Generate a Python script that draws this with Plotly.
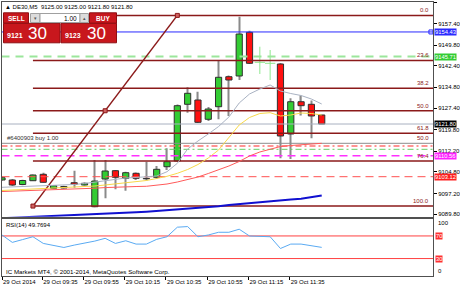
import plotly.graph_objects as go

W, H = 460, 287
def px(x): return x / W
def py(y): return 1 - y / H

FONT = "Liberation Sans, Arial, DejaVu Sans, sans-serif"

# ---------------- data ----------------
bars = list(range(32))
tick_bars = [0, 4, 8, 12, 16, 20, 24, 28]
tick_labels = ["29 Oct 2014", "29 Oct 09:35", "29 Oct 09:55", "29 Oct 10:15",
               "29 Oct 10:35", "29 Oct 10:55", "29 Oct 11:15", "29 Oct 11:35"]

opens = [9101.95, 9101.95, 9100.35, 9101.70, 9103.97, 9099.01, 9099.11, 9100.99, 9100.18, 9092.48,
         9102.30, 9105.25, 9102.55, 9104.32, 9102.48, 9102.91, 9106.66, 9108.68, 9128.78, 9130.31,
         9123.47, 9127.93, 9138.57, 9138.82, 9154.31, 9143.67, 9143.32, 9143.07, 9118.26, 9129.70,
         9128.78, 9125.00]
highs = [9103.20, 9102.30, 9102.00, 9103.90, 9104.54, 9100.11, 9099.90, 9105.25, 9101.06, 9109.04,
         9109.04, 9105.49, 9104.89, 9104.61, 9108.44, 9106.91, 9113.19, 9128.71, 9134.81, 9133.25,
         9127.83, 9144.13, 9138.99, 9159.84, 9154.87, 9149.20, 9148.03, 9143.42, 9130.91, 9131.90,
         9130.13, 9125.00]
lows = [9101.60, 9099.80, 9100.10, 9101.59, 9101.06, 9098.83, 9098.90, 9099.22, 9100.00, 9092.27,
        9095.46, 9098.65, 9098.16, 9101.95, 9101.77, 9102.30, 9105.49, 9108.51, 9125.81, 9122.15,
        9122.86, 9123.47, 9124.64, 9137.40, 9143.07, 9139.53, 9137.40, 9109.64, 9109.39, 9124.81,
        9116.73, 9121.80]
closes = [9102.76, 9100.18, 9101.77, 9103.72, 9101.13, 9099.93, 9099.64, 9100.42, 9100.78, 9101.59,
          9105.14, 9102.91, 9104.54, 9102.55, 9102.37, 9105.74, 9108.44, 9128.29, 9132.68, 9122.40,
          9127.12, 9138.36, 9137.40, 9153.70, 9143.32, 9143.67, 9143.32, 9117.55, 9129.70, 9128.29,
          9124.64, 9121.80]

ma_gray = [9099.36, 9099.47, 9099.64, 9099.82, 9100.00, 9100.07, 9100.18, 9100.35, 9100.71, 9101.24,
           9101.77, 9102.30, 9102.66, 9102.84, 9103.01, 9103.37, 9104.89, 9107.87, 9112.94, 9115.77,
           9118.26, 9120.91, 9124.28, 9129.25, 9132.44, 9134.21, 9135.63, 9133.50, 9132.61, 9131.90,
           9130.66, 9128.89]
ma_yellow = [9098.23, 9098.40, 9098.58, 9098.76, 9098.94, 9099.04, 9099.18, 9099.36, 9099.54, 9099.82,
             9100.18, 9100.53, 9100.89, 9101.24, 9101.77, 9102.48, 9103.26, 9104.32, 9105.67, 9107.44,
             9109.75, 9112.58, 9116.84, 9121.45, 9124.11, 9125.52, 9125.81, 9124.64, 9124.99, 9125.70,
             9125.52, 9124.99]
ma_red = [9097.87, 9097.98, 9098.12, 9098.23, 9098.33, 9098.48, 9098.58, 9098.72, 9098.87, 9099.04,
          9099.26, 9099.47, 9099.57, 9099.64, 9099.72, 9100.00, 9100.53, 9101.24, 9102.13, 9103.01,
          9104.25, 9105.49, 9106.91, 9108.51, 9110.46, 9111.88, 9112.94, 9113.82, 9114.18, 9114.36,
          9114.71, 9114.96]
ma_blue = [9088.41, 9088.55, 9088.73, 9088.87, 9089.05, 9089.19, 9089.36, 9089.51, 9089.68, 9089.83,
           9090.00, 9090.14, 9090.32, 9090.50, 9090.71, 9090.96, 9091.21, 9091.46, 9091.74, 9092.02,
           9092.27, 9092.66, 9093.09, 9093.44, 9093.80, 9094.22, 9094.58, 9094.86, 9095.04, 9095.28,
           9095.92, 9096.45]
rsi = [71.7, 58.6, 63.6, 68.6, 56.8, 53.2, 49.6, 53.8, 56.8, 60.9,
       65.8, 56.8, 61.5, 55.6, 55.6, 64.0, 68.6, 85.5, 86.6, 68.6,
       71.7, 76.5, 76.5, 81.9, 69.9, 69.4, 68.6, 47.8, 55.6, 55.6,
       52.7, 49.77]
rsi_title = "RSI(14) 49.7694"

price_ticks = [9164.80, 9157.40, 9149.80, 9142.40, 9134.80, 9127.40, 9119.80,
               9112.20, 9104.80, 9097.20, 9089.80]

fib_high, fib_low = 9160.30, 9092.70
fib_start_bar, fib_end_bar = 3, 17
fib_ratios = [0.0, 23.6, 38.2, 50.0, 61.8, 76.4, 100.0]

line_blue = 9154.43
line_green = 9145.71
line_bid = 9121.80
line_order = 9114.96
line_sl = 9114.00
line_tp = 9112.83
line_magenta = 9110.56
line_red = 9103.12
rsi_levels = [70, 30]

# ---------------- layout constants ----------------
X_LEFT, X_RIGHT = -0.048, 41.79
Y_BOTTOM, Y_TOP = 9088.94, 9165.05
DARKRED = "#8b1a1a"

fig = go.Figure()

def hline(y, color, width=1, dash="solid", x0=X_LEFT, axis=("x", "y")):
    fig.add_trace(go.Scatter(x=[x0, X_RIGHT], y=[y, y], mode="lines",
                             line=dict(color=color, width=width, dash=dash),
                             xaxis=axis[0], yaxis=axis[1], hoverinfo="skip"))

# candles: wicks then bodies (flat doji bars drawn as crosses)
norm = [i for i in bars if opens[i] != closes[i]]
doji = [i for i in bars if opens[i] == closes[i]]
fig.add_trace(go.Bar(x=norm, base=[lows[i] for i in norm],
                     y=[highs[i] - lows[i] for i in norm], width=0.12,
                     marker=dict(color="#8a8a8a", line=dict(width=0)),
                     xaxis="x", yaxis="y", hoverinfo="skip"))
fig.add_trace(go.Bar(x=norm, base=[min(opens[i], closes[i]) for i in norm],
                     y=[max(abs(closes[i] - opens[i]), 0.15) for i in norm], width=0.6,
                     marker=dict(color=["#33cc33" if closes[i] > opens[i] else "#ff1010" for i in norm],
                                 line=dict(color="#303030", width=1)),
                     xaxis="x", yaxis="y", hoverinfo="skip"))
cx, cy = [], []
for i in doji:
    cx += [i, i, None, i - 0.5, i + 0.5, None]
    cy += [lows[i], highs[i], None, closes[i], closes[i], None]
fig.add_trace(go.Scatter(x=cx, y=cy, mode="lines", line=dict(color="#8ee88e", width=1),
                         xaxis="x", yaxis="y", hoverinfo="skip"))

# horizontal objects
hline(line_blue, "#2a2aff", 1)
hline(line_green, "#9be69b", 2, "8px,6px")
hline(line_bid, "#a8b0c0", 1)
hline(line_order, "#8c8c8c", 1)
hline(line_sl, "#ff7070", 1.5, "6px,3px,2px,3px")
hline(line_tp, "#66cc66", 1, "6px,3px,2px,3px")
hline(line_magenta, "#ff30ff", 1.5, "8px,5px")
hline(line_red, "#ff5050", 1, "8px,5px")

# fibonacci
fib_levels = [fib_high - r / 100 * (fib_high - fib_low) for r in fib_ratios]
for lv in fib_levels:
    hline(lv, DARKRED, 1.5, x0=fib_start_bar)
fig.add_trace(go.Scatter(x=[fib_start_bar, fib_end_bar], y=[fib_low, fib_high], mode="lines",
                         line=dict(color=DARKRED, width=1.5), xaxis="x", yaxis="y", hoverinfo="skip"))
fig.add_trace(go.Scatter(x=[fib_start_bar, (fib_start_bar + fib_end_bar) / 2, fib_end_bar],
                         y=[fib_low, (fib_low + fib_high) / 2, fib_high], mode="markers",
                         marker=dict(symbol="square", size=4, color="#d06060",
                                     line=dict(color=DARKRED, width=1)),
                         xaxis="x", yaxis="y", hoverinfo="skip"))

# moving averages
fig.add_trace(go.Scatter(x=bars, y=ma_red, mode="lines", line=dict(color="#ff5a5a", width=1),
                         xaxis="x", yaxis="y", hoverinfo="skip"))
fig.add_trace(go.Scatter(x=bars, y=ma_yellow, mode="lines", line=dict(color="#f7d84a", width=1),
                         xaxis="x", yaxis="y", hoverinfo="skip"))
fig.add_trace(go.Scatter(x=bars, y=ma_gray, mode="lines", line=dict(color="#a9b2c2", width=1),
                         xaxis="x", yaxis="y", hoverinfo="skip"))
fig.add_trace(go.Scatter(x=bars, y=ma_blue, mode="lines", line=dict(color="#1010d0", width=2),
                         xaxis="x", yaxis="y", hoverinfo="skip"))
fig.add_trace(go.Scatter(x=[X_RIGHT - 0.2], y=[line_blue], mode="markers",
                         marker=dict(symbol="square-open", size=4, color="#2a2aff"),
                         xaxis="x", yaxis="y", hoverinfo="skip"))

# RSI panel
for lv in rsi_levels:
    hline(lv, "#ff4040", 1, axis=("x2", "y2"))
fig.add_trace(go.Scatter(x=bars, y=rsi, mode="lines", line=dict(color="#5aaaf2", width=1),
                         xaxis="x2", yaxis="y2", hoverinfo="skip"))

# ---------------- annotations ----------------
ann = []
def txt(x, y, s, size=6, color="#000", xanchor="left", yanchor="middle", xref="paper",
        yref="paper", bg=None, **kw):
    d = dict(x=x, y=y, text=s, showarrow=False, xref=xref, yref=yref, xanchor=xanchor,
             yanchor=yanchor, font=dict(size=size, color=color, family=FONT), **kw)
    if bg:
        d.update(bgcolor=bg, borderpad=0)
    ann.append(d)

for r, lv in zip(fib_ratios, fib_levels):
    txt(px(431), lv, f"{r:.1f}", color=DARKRED, xanchor="right", yanchor="bottom", yref="y")
txt(px(431), line_order, "50.0", color=DARKRED, xanchor="right", yanchor="bottom", yref="y")
txt(px(5), line_order, "#6400903 buy 1.00", color="#303030", yanchor="bottom", yref="y")

for val, bg in [(line_blue, "#2a2aff"), (line_green, "#33cc33"), (line_bid, "#000000"),
                (line_magenta, "#ff20ff"), (line_red, "#ff2020")]:
    txt(px(434), val, f"{val:.2f}", size=5.8, color="#ffffff", yref="y", bg=bg)

txt(px(436), py(222.7), "100")
txt(px(436), py(271), "0")
for lv in rsi_levels:
    txt(px(434.5), lv, str(lv), size=5.8, color="#ffffff", yref="y2", bg="#ff3030")

txt(px(3), py(6.5), "▲ DE30,M5  9125.00 9125.00 9121.80 9121.80", size=6)
txt(px(4), py(225), rsi_title, size=6)
txt(px(4), py(271), "IC Markets MT4, © 2001-2014, MetaQuotes Software Corp.", size=6.2)

# trading panel
shapes = []
def rect(x0, y0, x1, y1, fill, line="#8e0e12"):
    shapes.append(dict(type="rect", xref="paper", yref="paper", x0=px(x0), x1=px(x1),
                       y0=py(y1), y1=py(y0), fillcolor=fill, line=dict(color=line, width=1),
                       layer="above"))
RED = "#c8171d"
rect(3.5, 12.8, 28.5, 23.3, RED)
rect(89.5, 12.8, 116.5, 23.3, RED)
rect(3.5, 23.3, 60, 42.8, RED)
rect(61, 23.3, 116.5, 42.8, RED)
rect(30.5, 13.5, 40, 22.5, "#dcdcdc", "#a0a0a0")
rect(40, 13.5, 80, 22.5, "#ffffff", "#a0a0a0")
rect(80, 13.5, 88.5, 22.5, "#dcdcdc", "#a0a0a0")
txt(px(16), py(18), "<b>SELL</b>", size=6.5, color="#fff", xanchor="center")
txt(px(103), py(18), "<b>BUY</b>", size=6.5, color="#fff", xanchor="center")
txt(px(35.2), py(18), "▾", size=5, color="#555", xanchor="center")
txt(px(84.2), py(18), "▴", size=5, color="#555", xanchor="center")
txt(px(78.5), py(18), "1.00", size=6.5, xanchor="right")
txt(px(24.5), py(36), "<b>9121</b>", size=7, color="#fff", xanchor="right")
txt(px(26), py(33.5), "30", size=17, color="#fff")
txt(px(83), py(36), "<b>9123</b>", size=7, color="#fff", xanchor="right")
txt(px(84.5), py(33.5), "30", size=17, color="#fff")

axis_common = dict(showgrid=False, zeroline=False, showline=True, mirror=True,
                   linecolor="#505050", linewidth=1, automargin=False)
fig.update_layout(
    template="none",
    width=W, height=H, margin=dict(l=0, r=0, t=0, b=0, pad=0),
    paper_bgcolor="#ffffff", plot_bgcolor="#ffffff",
    showlegend=False, barmode="overlay", hovermode=False,
    font=dict(family=FONT, size=6, color="#000"),
    annotations=ann, shapes=shapes,
    xaxis=dict(domain=[px(1.5), px(433)], range=[X_LEFT, X_RIGHT], anchor="y",
               showticklabels=False, ticks="", **axis_common),
    yaxis=dict(domain=[py(216.7), py(2)], range=[Y_BOTTOM, Y_TOP], anchor="x", side="right",
               tickvals=price_ticks, ticktext=[f"{v:.2f}" for v in price_ticks],
               ticks="outside", ticklen=3, tickcolor="#000", tickfont=dict(size=6),
               **axis_common),
    xaxis2=dict(domain=[px(1.5), px(433)], range=[X_LEFT, X_RIGHT], anchor="y2", matches="x",
                tickvals=[max(b - 0.1, 0.0) for b in tick_bars], ticktext=tick_labels, tickangle=0,
                ticklabelposition="outside right", ticks="outside", ticklen=3, tickcolor="#000",
                tickfont=dict(size=6), **axis_common),
    yaxis2=dict(domain=[py(275.5), py(219)], range=[0, 100], anchor="x2", side="right",
                showticklabels=False, ticks="", **axis_common),
)

fig.write_html("out.html")
